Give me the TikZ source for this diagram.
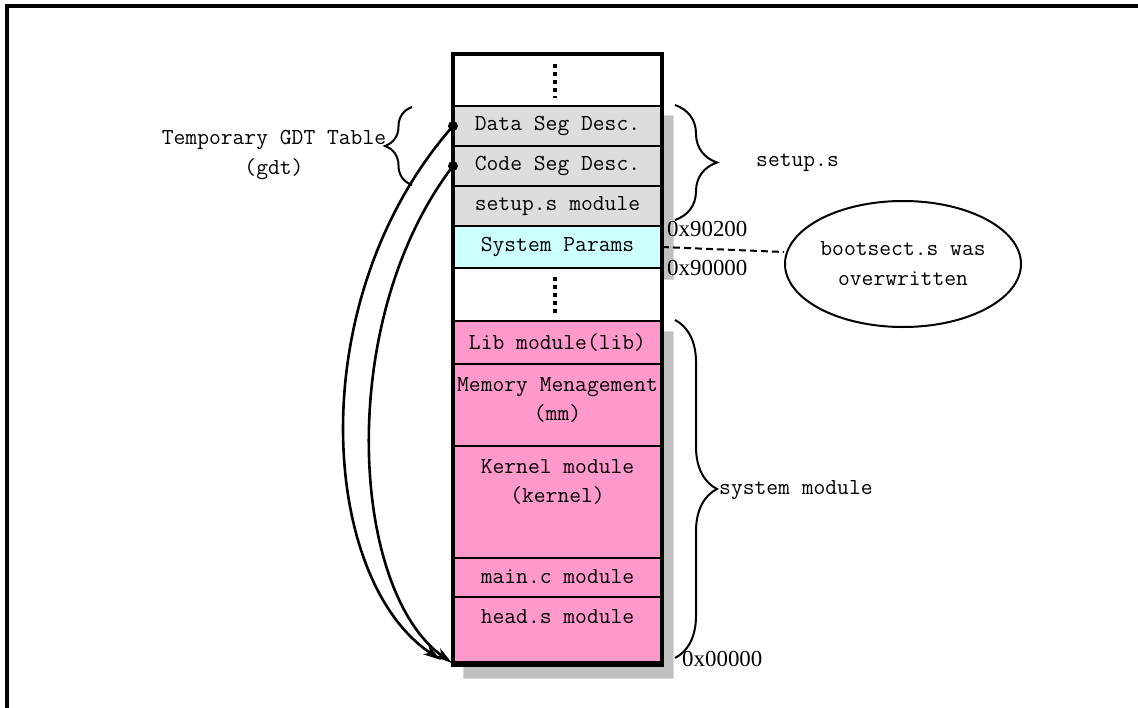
\documentclass[tikz,border=0pt]{standalone}
\usepackage{fontspec}
\newfontfamily\hexfont{Liberation Serif}
\usetikzlibrary{shapes.geometric,decorations.pathreplacing,arrows.meta,calc}
\definecolor{cellgray}{RGB}{221,221,221}
\definecolor{cellcyan}{RGB}{204,255,255}
\definecolor{cellpink}{RGB}{255,153,204}
\definecolor{shadecol}{RGB}{192,192,192}
\begin{document}
\begin{tikzpicture}[x=1bp,y=-1bp,
  cell/.style={draw=black, line width=2bp, minimum width=209bp, inner sep=0pt, outer sep=0pt, anchor=north west},
  txt/.style={font=\fontsize{23}{30}\selectfont\ttfamily, inner sep=0pt, align=center},
  hex/.style={font=\fontsize{23}{28}\selectfont\hexfont, inner sep=0pt, anchor=west},
  brc/.style={decorate, decoration={brace, amplitude=#1}, line width=2bp},
  dotsline/.style={line width=3.5bp, dash pattern=on 4bp off 4bp},
  shadowbox/.style={fill=shadecol, draw=black!15, line width=1bp},
  link/.style={line width=2.6bp, -{Stealth[length=18bp,width=10bp,inset=5bp]}}]
\useasboundingbox (0,0) rectangle (1138,708);
% frame
\draw[line width=3.5bp] (7,708) -- (7,6) -- (1138,6);
% shadows
\path[shadowbox] (463,116) rectangle (673,279);
\path[shadowbox] (463,331) rectangle (673,678);
% cells
\node[cell, fill=white,     minimum height=52bp]  (top)    at (453,54)  {};
\node[cell, fill=cellgray,  minimum height=40bp]  (data)   at (453,106) {};
\node[cell, fill=cellgray,  minimum height=40bp]  (code)   at (453,146) {};
\node[cell, fill=cellgray,  minimum height=40bp]  (setupm) at (453,186) {};
\node[cell, fill=cellcyan,  minimum height=42bp]  (params) at (453,226) {};
\node[cell, fill=white,     minimum height=53bp]  (gap)    at (453,268) {};
\node[cell, fill=cellpink,  minimum height=43bp]  (lib)    at (453,321) {};
\node[cell, fill=cellpink,  minimum height=82bp]  (mm)     at (453,364) {};
\node[cell, fill=cellpink,  minimum height=112bp] (kern)   at (453,446) {};
\node[cell, fill=cellpink,  minimum height=39bp]  (mainc)  at (453,558) {};
\node[cell, fill=cellpink,  minimum height=68bp]  (head)   at (453,597) {};
\draw[line width=3.5bp] (top.north west) rectangle (head.south east);
\draw[line width=6bp] ([yshift=1bp]head.south west) -- ([yshift=1bp]head.south east);
% cell texts
\node[txt] (tdata)   at (557.5,126) {Data Seg Desc.};
\node[txt] (tcode)   at (557.5,166) {Code Seg Desc.};
\node[txt] (tsetup)  at (557.5,206) {setup.s module};
\node[txt] (tparams) at (557.5,247) {System Params};
\node[txt] (tlib)    at (557.5,342) {Lib module(lib)};
\node[txt] (tmm)     at (557.5,400) {Memory Menagement\\(mm)};
\node[txt] (tkern)   at (557.5,482) {Kernel module\\(kernel)};
\node[txt] (tmain)   at (557.5,577) {main.c module};
\node[txt] (thead)   at (557.5,617) {head.s module};
% vertical dots
\draw[dotsline] (555,64) -- (555,98);
\draw[dotsline] (555,277) -- (555,313);
% braces
\draw[brc=27bp] (412,185) -- (412,107);
\node[txt] (gdt) at (274,155) {Temporary GDT Table\\(gdt)};
\draw[brc=42bp] (675,105) -- (675,220);
\node[txt, anchor=west] (setuplbl) at (756,163) {setup.s};
\draw[brc=42bp] (675,320) -- (675,658);
\node[txt, anchor=west] (syslbl) at (719,490) {system module};
% addresses
\node[hex] (a1) at (667,229) {0x90200};
\node[hex] (a2) at (667,268) {0x90000};
\node[hex] (a3) at (682,659) {0x00000};
% ellipse
\node[draw, ellipse, line width=2bp, minimum width=236bp, minimum height=126bp, txt] (boot) at (903,264) {bootsect.s was\\overwritten};
\draw[line width=2bp, dash pattern=on 7bp off 4bp] (params.east) -- ([yshift=12bp]boot.west);
% arrows
\fill (data.west) circle (5bp);
\fill (code.west) circle (5bp);
\draw[link] (data.west) .. controls (300,300) and (320,580) .. ([shift={(-12,-5)}]head.south west);
\draw[link] (code.west) .. controls (335,320) and (350,590) .. ([shift={(-1,-2)}]head.south west);
\end{tikzpicture}
\end{document}
